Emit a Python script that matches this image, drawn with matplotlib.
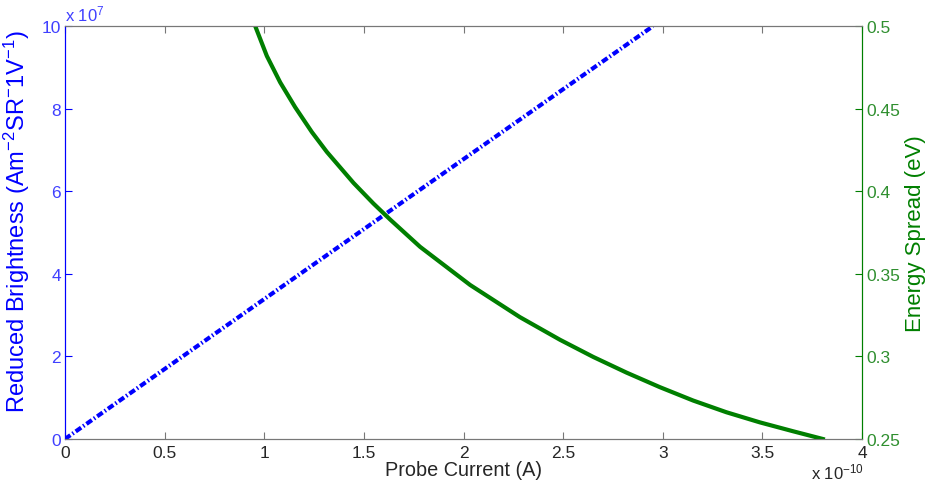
import matplotlib
matplotlib.use("Agg")
import matplotlib.pyplot as plt

plt.rcParams.update({
    "font.family": "Liberation Sans",
    "mathtext.default": "regular",
})

# ── Data (current in units of 1e-10 A) ──────────────────────
bright_current = [0.0, 0.5, 1.0, 1.5, 2.0, 2.5, 2.95]
brightness = [0.0, 1.695, 3.39, 5.085, 6.78, 8.475, 10.0]   # x 1e7

spread_current = [0.955, 1.013, 1.080, 1.155, 1.239, 1.314, 1.448, 1.548,
                  1.632, 1.782, 2.033, 2.283, 2.484, 2.651, 2.818, 2.985,
                  3.152, 3.319, 3.486, 3.653, 3.803]
spread_ev = [0.500, 0.482, 0.466, 0.451, 0.4359, 0.4239, 0.4051, 0.3926,
             0.3829, 0.3664, 0.3433, 0.3238, 0.3101, 0.2997, 0.2902, 0.2814,
             0.2733, 0.2662, 0.2601, 0.2547, 0.2500]

x_ticks = [0, 0.5, 1, 1.5, 2, 2.5, 3, 3.5, 4]
x_labels = ["0", "0.5", "1", "1.5", "2", "2.5", "3", "3.5", "4"]
left_ticks = [0, 2, 4, 6, 8, 10]
right_ticks = [0.25, 0.3, 0.35, 0.4, 0.45, 0.5]
right_labels = ["0.25", "0.3", "0.35", "0.4", "0.45", "0.5"]

BLUE = "#0000FF"
BLUE_T = "#4040FF"
GREEN = "#007F00"
GREEN_T = "#2F8F2F"
GREY = "#777777"
DARK = "#262626"

fig = plt.figure(figsize=(9.28, 4.85), dpi=100)
ax = fig.add_axes([0.070, 0.0928, 0.859, 0.851])
ax2 = ax.twinx()

ax.plot(bright_current, brightness, color=BLUE, lw=3, ls="-.",
        dashes=(1.6, 0.6, 0.35, 0.6))
ax2.plot(spread_current, spread_ev, color=GREEN, lw=3)

ax.set_xlim(0, 4)
ax.set_ylim(0, 10)
ax2.set_ylim(0.25, 0.5)

ax.set_xticks(x_ticks)
ax.set_xticklabels(x_labels)
ax.set_yticks(left_ticks)
ax2.set_yticks(right_ticks)
ax2.set_yticklabels(right_labels)

ax.tick_params(axis="x", direction="in", top=True, colors=GREY, labelcolor=DARK,
               labelsize=12.5, length=5, pad=4)
ax.tick_params(axis="y", direction="in", colors=BLUE, labelcolor=BLUE_T,
               labelsize=12.5, length=5, pad=3)
ax2.tick_params(axis="y", direction="in", colors=GREEN, labelcolor=GREEN_T,
                labelsize=12.5, length=5, pad=3)

for a in (ax, ax2):
    a.spines["bottom"].set_color(GREY)
    a.spines["top"].set_color(GREY)
    a.spines["left"].set_color(BLUE)
    a.spines["right"].set_color(GREEN)

ax.set_xlabel("Probe Current (A)", fontsize=14.3, color=DARK)
ax.xaxis.set_label_coords(0.5, -0.052)
ax.set_ylabel("Reduced Brightness (Am$^{-2}$SR$^{-}$1V$^{-1}$)", fontsize=17,
              color=BLUE)
ax.yaxis.set_label_coords(-0.041, 0.53)
ax2.set_ylabel("Energy Spread (eV)", fontsize=16, color=GREEN)
ax2.yaxis.set_label_coords(1.054, 0.50)

# MATLAB-style exponent labels
ax.text(0.0, 1.008, "x 10$^{7}$", transform=ax.transAxes, fontsize=12,
        color=BLUE_T, ha="left", va="bottom")
fig.text(0.874, 0.006, "x 10$^{-10}$", fontsize=12, color=DARK,
         ha="left", va="bottom")

fig.savefig("out.png", dpi=100)
